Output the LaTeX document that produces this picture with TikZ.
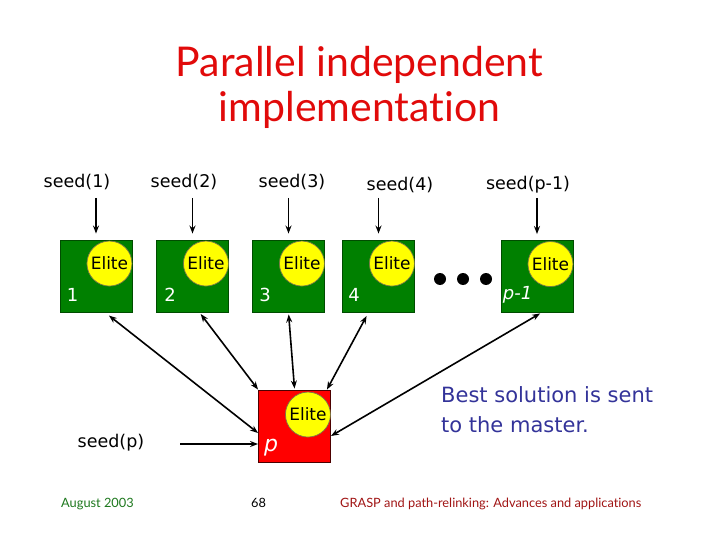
\documentclass[tikz,border=0pt]{standalone}
\usepackage{fontspec}
\setmainfont{DejaVu Sans}
\newfontfamily\titlefont[Ligatures={NoCommon}]{Lato}
\usetikzlibrary{arrows.meta,calc}
\definecolor{boxgreen}{RGB}{0,128,0}
\definecolor{titlered}{RGB}{225,10,10}
\definecolor{bluetext}{RGB}{51,51,153}
\definecolor{footred}{RGB}{160,20,20}
\definecolor{footgreen}{RGB}{30,120,30}
\definecolor{eliteyellow}{RGB}{255,255,0}
\begin{document}
\begin{tikzpicture}[x=1pt,y=-1pt,
  gbox/.style={draw=black!70!green,line width=0.9pt,fill=boxgreen,minimum size=72pt,inner sep=0pt},
  rbox/.style={draw=black!70!red,line width=0.9pt,fill=red,minimum size=72pt,inner sep=0pt},
  elite/.style={circle,draw=black!60!yellow,line width=0.7pt,fill=eliteyellow,minimum size=45pt,inner sep=0pt,font=\fontsize{17}{17}\selectfont},
  numlab/.style={text=white,font=\fontsize{18}{18}\selectfont,inner sep=0pt},
  seedlab/.style={font=\fontsize{17.5}{18}\selectfont,inner sep=0pt},
  seedarrow/.style={-{Stealth[length=8pt,width=6pt]},line width=1.8pt},
  darrow/.style={{Stealth[length=8pt,width=6pt]}-{Stealth[length=8pt,width=6pt]},line width=1.6pt},
  dot/.style={circle,fill=black,minimum size=12pt,inner sep=0pt},
  foot/.style={anchor=base west,font=\titlefont\fontsize{12.8}{13}\selectfont,inner sep=0pt}]
\useasboundingbox (0,0) rectangle (720,540);
% title
\node[anchor=base,text=titlered,font=\titlefont\fontsize{41}{41}\selectfont,inner sep=0pt] (t1) at (359.5,77) {Parallel independent};
\node[anchor=base,text=titlered,font=\titlefont\fontsize{41}{41}\selectfont,inner sep=0pt] (t2) at (359.5,122) {implementation};
% green boxes
\node[gbox] (g1) at (96,276) {};
\node[gbox] (g2) at (192.5,276) {};
\node[gbox] (g3) at (288.5,276) {};
\node[gbox] (g4) at (378.5,276) {};
\node[gbox] (g5) at (537,276.5) {};
\foreach \i in {1,...,5}{
  \node[elite] (e\i) at ($(g\i.north east)+(-23,24)$) {Elite};
}
\node[numlab] (n1) at ($(g1.west)+(13,19)$) {1};
\node[numlab] (n2) at ($(g2.west)+(14,19)$) {2};
\node[numlab] (n3) at ($(g3.west)+(13,19)$) {3};
\node[numlab] (n4) at ($(g4.west)+(12,19)$) {4};
\node[numlab,font=\fontsize{18}{18}\selectfont\itshape] (n5) at ($(g5.west)+(17,18.5)$) {p-1};
% dots
\node[dot] (d1) at (440,279) {};
\node[dot] (d2) at (463,279) {};
\node[dot] (d3) at (486,279) {};
% seeds
\node[seedlab] (s1) at (77,182) {seed(1)};
\node[seedlab] (s2) at (184,182) {seed(2)};
\node[seedlab] (s3) at (292,182) {seed(3)};
\node[seedlab] (s4) at (400,185) {seed(4)};
\node[seedlab] (s5) at (528,185) {seed(p-1)};
\coordinate (c1) at (96,198);
\coordinate (c2) at (192.5,198);
\coordinate (c3) at (288.5,198);
\coordinate (c4) at (378.5,198);
\coordinate (c5) at (537,198);
\foreach \i in {1,...,5}{
  \draw[seedarrow,shorten >=6pt] (c\i) -- (g\i.north);
}
% master
\node[rbox] (rp) at (294.5,426) {};
\node[elite] (ep) at ($(rp.north east)+(-23,25)$) {Elite};
\node[numlab,font=\fontsize{22}{22}\selectfont\itshape] (np) at ($(rp.west)+(13,22)$) {p};
\node[seedlab] (sp) at (111,443) {seed(p)};
\coordinate (cp) at (180,444);
\draw[seedarrow] (cp) -- ($(rp.west)+(0,18)$);
% double arrows
\draw[darrow,shorten <=5pt] ($(g1.south)+(9,0)$) -- ($(rp.west)+(0,7)$);
\draw[darrow,shorten <=2pt] ($(g2.south)+(7,0)$) -- (rp.north west);
\draw[darrow,shorten <=2pt] (g3.south) -- ($(rp.north)+(0,-1)$);
\draw[darrow,shorten <=4pt] ($(g4.south)+(-10,0)$) -- ($(rp.north east)+(-4,0)$);
\draw[darrow,shorten <=1pt] ($(g5.south)+(4,0)$) -- ($(rp.east)+(0,10)$);
% text
\node[anchor=base west,text=bluetext,font=\fontsize{21}{21}\selectfont,inner sep=0pt] (bs1) at (441,402) {Best solution is sent};
\node[anchor=base west,text=bluetext,font=\fontsize{21}{21}\selectfont,inner sep=0pt] (bs2) at (441,432) {to the master.};
% footer
\node[foot,text=footgreen] (f1) at (61,507) {August 2003};
\node[foot] (f2) at (251,507) {68};
\node[foot,text=footred] (f3) at (340,507) {GRASP and path-relinking: Advances and applications};
\end{tikzpicture}
\end{document}
